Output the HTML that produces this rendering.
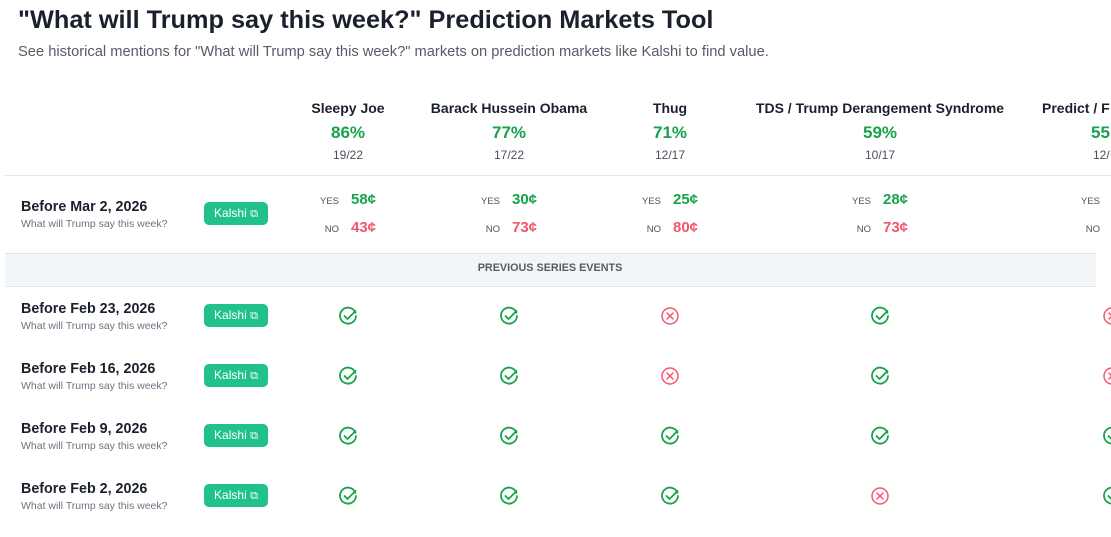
<!DOCTYPE html>
<html><head><meta charset="utf-8"><style>
body{margin:0;width:1111px;height:537px;overflow:hidden;background:#fff;font-family:"Liberation Sans",Arial,sans-serif;color:#1a202c;position:relative}
.a{position:absolute;white-space:nowrap}
.c{transform:translateX(-50%);text-align:center}
.h{font-weight:bold;font-size:14px;color:#1a202c}
.pct{font-weight:bold;font-size:17px;color:#17a34a}
.fr{font-size:12px;color:#4a5060}
.line{position:absolute;left:5px;height:1px;background:#e2e5ea}
.d{font-weight:bold;font-size:14.3px;color:#1a202c}
.s{font-size:10.5px;color:#6b7280}
.btn{position:absolute;left:204px;width:64px;height:23px;background:#20c18a;border-radius:5px;color:#fff;font-size:12px;line-height:23px;text-align:center}
.lb{font-size:9.5px;color:#4a5060;text-align:right;width:30px}
.y{font-weight:bold;font-size:15px;color:#17a34a}
.n{font-weight:bold;font-size:15px;color:#f2566f}
</style></head><body>
<div class="a" style="left:18px;top:6px;font-size:25.3px;font-weight:bold">"What will Trump say this week?" Prediction Markets Tool</div>
<div class="a" style="left:18px;top:44px;font-size:14.7px;color:#555c68">See historical mentions for "What will Trump say this week?" markets on prediction markets like Kalshi to find value.</div>

<div class="a c h" style="left:348px;top:100px">Sleepy Joe</div>
<div class="a c h" style="left:509px;top:100px">Barack Hussein Obama</div>
<div class="a c h" style="left:670px;top:100px">Thug</div>
<div class="a c h" style="left:880px;top:100px">TDS / Trump Derangement Syndrome</div>
<div class="a h" style="left:1042px;top:100px">Predict / F</div>
<div class="a c pct" style="left:348px;top:123px">86%</div>
<div class="a c pct" style="left:509px;top:123px">77%</div>
<div class="a c pct" style="left:670px;top:123px">71%</div>
<div class="a c pct" style="left:880px;top:123px">59%</div>
<div class="a pct" style="left:1091px;top:123px">55</div>
<div class="a c fr" style="left:348px;top:148px">19/22</div>
<div class="a c fr" style="left:509px;top:148px">17/22</div>
<div class="a c fr" style="left:670px;top:148px">12/17</div>
<div class="a c fr" style="left:880px;top:148px">10/17</div>
<div class="a fr" style="left:1093px;top:148px">12/</div>
<div class="line" style="top:175px;width:1106px"></div>

<div class="a d" style="left:21px;top:199px">Before Mar 2, 2026</div>
<div class="a s" style="left:21px;top:218px">What will Trump say this week?</div>
<div class="btn" style="top:202px">Kalshi <span style="font-size:11px">⧉</span></div>

<div class="a lb" style="left:309px;top:196px">YES</div><div class="a y" style="left:351px;top:191px">58¢</div>
<div class="a lb" style="left:309px;top:224px">NO</div><div class="a n" style="left:351px;top:219px">43¢</div>
<div class="a lb" style="left:470px;top:196px">YES</div><div class="a y" style="left:512px;top:191px">30¢</div>
<div class="a lb" style="left:470px;top:224px">NO</div><div class="a n" style="left:512px;top:219px">73¢</div>
<div class="a lb" style="left:631px;top:196px">YES</div><div class="a y" style="left:673px;top:191px">25¢</div>
<div class="a lb" style="left:631px;top:224px">NO</div><div class="a n" style="left:673px;top:219px">80¢</div>
<div class="a lb" style="left:841px;top:196px">YES</div><div class="a y" style="left:883px;top:191px">28¢</div>
<div class="a lb" style="left:841px;top:224px">NO</div><div class="a n" style="left:883px;top:219px">73¢</div>
<div class="a lb" style="left:1070px;top:196px">YES</div>
<div class="a lb" style="left:1070px;top:224px">NO</div>

<div class="a" style="left:5px;top:253px;width:1091px;height:32px;background:#f3f6f9;border-top:1px solid #e2e5ea;border-bottom:1px solid #e2e5ea"></div>
<div class="a c" style="left:550px;top:262px;font-size:10.8px;font-weight:bold;color:#555c68">PREVIOUS SERIES EVENTS</div>

<svg class="a" style="left:0;top:0" width="1111" height="537">
<defs>
<g id="ok"><path d="M7.5 -3.2 A8 8 0 1 0 8 0" fill="none" stroke="#17a34a" stroke-width="1.8" stroke-linecap="round"/><path d="M-3.5 0 L-0.5 3 L7.5 -5" fill="none" stroke="#17a34a" stroke-width="1.8" stroke-linecap="round" stroke-linejoin="round"/></g>
<g id="no"><circle r="8" fill="none" stroke="#f2566f" stroke-width="1.5"/><path d="M-3 -3 L3 3 M3 -3 L-3 3" stroke="#f2566f" stroke-width="1.5" stroke-linecap="round"/></g>
</defs>
<use href="#ok" x="348" y="316"/><use href="#ok" x="509" y="316"/><use href="#no" x="670" y="316"/><use href="#ok" x="880" y="316"/><use href="#no" x="1112" y="316"/>
<use href="#ok" x="348" y="376"/><use href="#ok" x="509" y="376"/><use href="#no" x="670" y="376"/><use href="#ok" x="880" y="376"/><use href="#no" x="1112" y="376"/>
<use href="#ok" x="348" y="436"/><use href="#ok" x="509" y="436"/><use href="#ok" x="670" y="436"/><use href="#ok" x="880" y="436"/><use href="#ok" x="1112" y="436"/>
<use href="#ok" x="348" y="496"/><use href="#ok" x="509" y="496"/><use href="#ok" x="670" y="496"/><use href="#no" x="880" y="496"/><use href="#ok" x="1112" y="496"/>
</svg>

<div class="a d" style="left:21px;top:301px">Before Feb 23, 2026</div>
<div class="a s" style="left:21px;top:320px">What will Trump say this week?</div>
<div class="btn" style="top:304px">Kalshi <span style="font-size:11px">⧉</span></div>
<div class="a d" style="left:21px;top:361px">Before Feb 16, 2026</div>
<div class="a s" style="left:21px;top:380px">What will Trump say this week?</div>
<div class="btn" style="top:364px">Kalshi <span style="font-size:11px">⧉</span></div>
<div class="a d" style="left:21px;top:421px">Before Feb 9, 2026</div>
<div class="a s" style="left:21px;top:440px">What will Trump say this week?</div>
<div class="btn" style="top:424px">Kalshi <span style="font-size:11px">⧉</span></div>
<div class="a d" style="left:21px;top:481px">Before Feb 2, 2026</div>
<div class="a s" style="left:21px;top:500px">What will Trump say this week?</div>
<div class="btn" style="top:484px">Kalshi <span style="font-size:11px">⧉</span></div>
</body></html>
